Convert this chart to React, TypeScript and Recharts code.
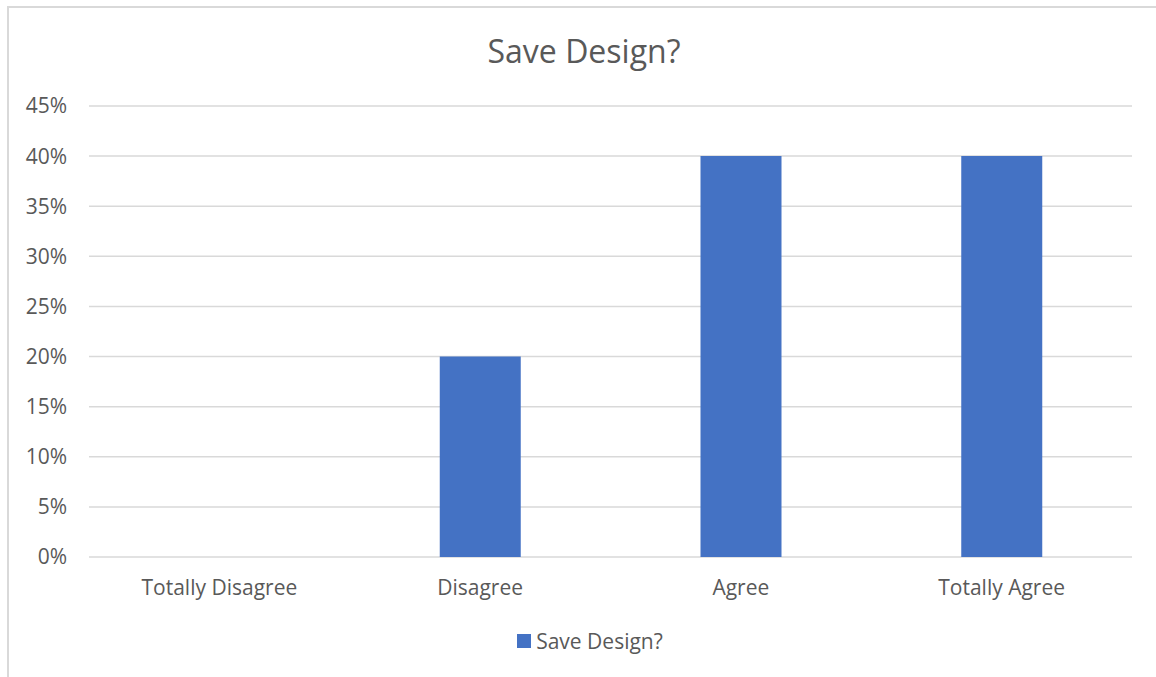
import React from 'react';
import { BarChart, Bar, XAxis, YAxis, CartesianGrid, Legend } from 'recharts';

const categories = ['Totally Disagree', 'Disagree', 'Agree', 'Totally Agree'];
const saveDesign = [0, 0.2, 0.4, 0.4];
const yTicks = [0, 0.05, 0.1, 0.15, 0.2, 0.25, 0.3, 0.35, 0.4, 0.45];

const data = categories.map((name, i) => ({ name, value: saveDesign[i] }));

const FONT = '"Open Sans", "Noto Sans", sans-serif';
const TEXT = '#595959';
const BLUE = '#4472C4';

const pct = (v: number) => `${Math.round(v * 100)}%`;

const LegendBox = () => (
  <div
    style={{
      display: 'flex',
      justifyContent: 'center',
      alignItems: 'center',
      height: 30,
      fontFamily: FONT,
      fontSize: 21,
      color: TEXT,
    }}
  >
    <span style={{ width: 14, height: 14, background: BLUE, marginRight: 5, display: 'inline-block' }} />
    <span>Save Design?</span>
  </div>
);

export default function App() {
  return (
    <div style={{ position: 'absolute', left: 0, top: 0, width: 1156, height: 677, background: '#fff', overflow: 'hidden' }}>
      <div
        style={{
          position: 'absolute',
          left: 7,
          top: 6,
          width: 1170,
          height: 690,
          borderTop: '2px solid #d9d9d9',
          borderLeft: '2px solid #d9d9d9',
        }}
      />
      <div
        style={{
          position: 'absolute',
          left: 0,
          width: 1168,
          top: 29,
          textAlign: 'center',
          fontFamily: FONT,
          fontSize: 32,
          color: TEXT,
        }}
      >
        Save Design?
      </div>
      <div style={{ position: 'absolute', left: 0, top: 0 }}>
        <BarChart
          width={1156}
          height={677}
          data={data}
          margin={{ top: 106, right: 24, left: 0, bottom: 60 }}
        >
          <CartesianGrid vertical={false} stroke="#d9d9d9" strokeWidth={1.5} />
          <XAxis
            dataKey="name"
            axisLine={false}
            tickLine={false}
            tickSize={0}
            tickMargin={23}
            height={30}
            tick={{ fill: TEXT, fontSize: 21, fontFamily: FONT }}
          />
          <YAxis
            width={89}
            domain={[0, 0.45]}
            ticks={yTicks}
            tickFormatter={pct}
            axisLine={false}
            tickLine={false}
            tickSize={0}
            tickMargin={22}
            tick={{ fill: TEXT, fontSize: 21, fontFamily: FONT }}
          />
          <Legend
            content={<LegendBox />}
            wrapperStyle={{ position: 'absolute', left: 0, top: 626, width: 1180, height: 30 }}
          />
          <Bar dataKey="value" name="Save Design?" fill={BLUE} barSize={81} isAnimationActive={false} />
        </BarChart>
      </div>
    </div>
  );
}
